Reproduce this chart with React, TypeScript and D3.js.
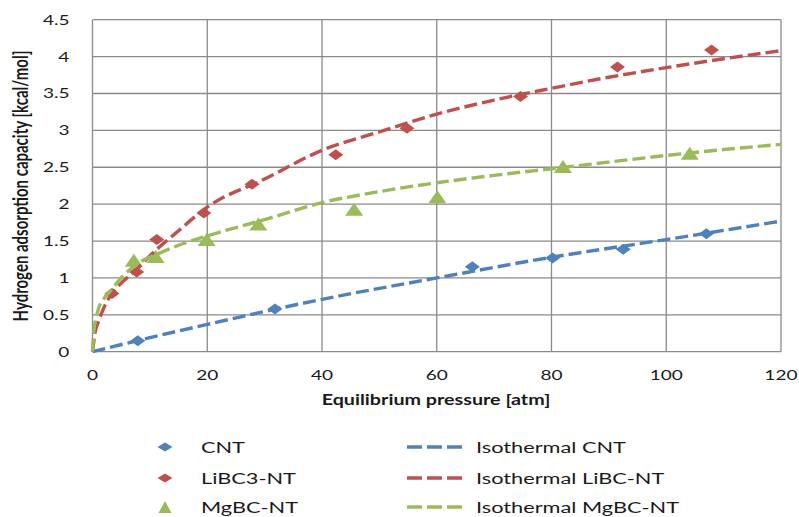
import React from 'react';
import * as d3 from 'd3';

// measured points
const cntX = [7.9, 31.8, 66.2, 80.2, 92.5, 107];
const cntY = [0.15, 0.58, 1.15, 1.27, 1.39, 1.6];
const libcX = [3.4, 7.7, 11.2, 19.4, 27.8, 42.4, 54.8, 74.6, 91.5, 107.9];
const libcY = [0.79, 1.08, 1.52, 1.88, 2.27, 2.67, 3.03, 3.46, 3.86, 4.09];
const mgbcX = [7.2, 11, 19.9, 28.9, 45.6, 60.1, 82, 104.1];
const mgbcY = [1.24, 1.29, 1.52, 1.73, 1.93, 2.1, 2.51, 2.69];

// isotherm fits
const fitCntX = [0, 10, 20, 40, 60, 80, 100, 120];
const fitCntY = [0, 0.19, 0.37, 0.71, 1.0, 1.28, 1.52, 1.77];
const fitLibcX = [0, 0.5, 1, 2, 3.5, 5, 7.5, 10, 15, 20, 30, 40, 50, 60, 70, 80, 90, 100, 110, 120];
const fitLibcY = [0, 0.28, 0.4, 0.6, 0.8, 0.93, 1.1, 1.3, 1.64, 1.96, 2.34, 2.73, 2.98, 3.22, 3.41, 3.57, 3.72, 3.85, 3.97, 4.08];
const fitMgbcX = [0, 0.2, 1, 2, 3.3, 5, 8, 11.5, 16, 20, 30, 40, 50, 60, 70, 80, 90, 100, 110, 120];
const fitMgbcY = [0, 0.25, 0.57, 0.72, 0.84, 1.0, 1.2, 1.33, 1.47, 1.57, 1.79, 2.02, 2.17, 2.29, 2.39, 2.48, 2.57, 2.66, 2.74, 2.81];

const xTicks = [0, 20, 40, 60, 80, 100, 120];
const yTicks = [0, 0.5, 1, 1.5, 2, 2.5, 3, 3.5, 4, 4.5];

const pointNames = ['CNT', 'LiBC3-NT', 'MgBC-NT'];
const lineNames = ['Isothermal CNT', 'Isothermal LiBC-NT', 'Isothermal MgBC-NT'];
const colors = ['#4F81BD', '#C0504D', '#9BBB59'];
const shapes = ['diamond', 'diamond', 'triangle'];

const FONT = 'Lato, "Open Sans", sans-serif';
const STRETCH = 1.36;

const zip = (xs: number[], ys: number[]) => xs.map((x, i) => [x, ys[i]] as [number, number]);

const markerPath = (shape: string, w: number, h: number) =>
  shape === 'diamond'
    ? `M0,${-h / 2}L${w / 2},0L0,${h / 2}L${-w / 2},0Z`
    : `M0,${-h / 2}L${w / 2},${h / 2}L${-w / 2},${h / 2}Z`;

const renderChart = (svg: any) => {
  const width = 799;
  const height = 517;
  const x = d3.scaleLinear().domain([0, 120]).range([92.5, 781]);
  const y = d3.scaleLinear().domain([0, 4.5]).range([351.7, 19.7]);

  svg.selectAll('*').remove();
  svg.append('rect').attr('width', width).attr('height', height).attr('fill', '#fff');

  // grid
  const grid = svg.append('g');
  grid.selectAll('.vg').data(xTicks).join('line')
    .attr('x1', (d: number) => x(d)).attr('x2', (d: number) => x(d))
    .attr('y1', y(0)).attr('y2', y(4.5))
    .attr('stroke', '#8a8a8a').attr('stroke-width', 1.3);
  grid.selectAll('.hg').data(yTicks).join('line')
    .attr('y1', (d: number) => y(d)).attr('y2', (d: number) => y(d))
    .attr('x1', x(0)).attr('x2', x(120))
    .attr('stroke', '#8a8a8a').attr('stroke-width', 1.3);

  // tick labels
  svg.append('g').selectAll('text').data(yTicks).join('text')
    .attr('x', 69.5).attr('y', (d: number) => y(d) + 5)
    .attr('text-anchor', 'end')
    .attr('font-family', FONT).attr('font-size', 14).attr('fill', '#1a1a1a')
    .style('transform-box', 'fill-box').style('transform-origin', 'right center')
    .style('transform', `scaleX(${STRETCH})`)
    .text((d: number) => String(d));
  svg.append('g').selectAll('text').data(xTicks).join('text')
    .attr('x', (d: number) => x(d)).attr('y', 380)
    .attr('text-anchor', 'middle')
    .attr('font-family', FONT).attr('font-size', 14).attr('fill', '#1a1a1a')
    .style('transform-box', 'fill-box').style('transform-origin', 'center')
    .style('transform', `scaleX(${STRETCH})`)
    .text((d: number) => String(d));

  // axis titles
  svg.append('text')
    .attr('x', 436).attr('y', 405)
    .attr('text-anchor', 'middle')
    .attr('font-family', FONT).attr('font-size', 14.5).attr('font-weight', 'bold').attr('fill', '#1a1a1a')
    .style('transform-box', 'fill-box').style('transform-origin', 'center')
    .style('transform', `scaleX(${STRETCH})`)
    .text('Equilibrium pressure [atm]');
  svg.append('text')
    .attr('transform', `translate(28,186) rotate(-90) scale(1,${STRETCH})`)
    .attr('text-anchor', 'middle')
    .attr('font-family', FONT).attr('font-size', 15).attr('font-weight', 'bold').attr('fill', '#1a1a1a')
    .text('Hydrogen adsorption capacity [kcal/mol]');

  const pointSets = [zip(cntX, cntY), zip(libcX, libcY), zip(mgbcX, mgbcY)];
  const fitSets = [zip(fitCntX, fitCntY), zip(fitLibcX, fitLibcY), zip(fitMgbcX, fitMgbcY)];

  // markers
  pointSets.forEach((pts, i) => {
    const w = shapes[i] === 'diamond' ? 15 : 18;
    const h = shapes[i] === 'diamond' ? 11 : 13;
    svg.append('g').selectAll('path').data(pts).join('path')
      .attr('transform', (d: [number, number]) => `translate(${x(d[0])},${y(d[1])})`)
      .attr('d', markerPath(shapes[i], w, h))
      .attr('fill', colors[i]);
  });

  // fitted lines
  const line = d3.line<[number, number]>()
    .x(d => x(d[0])).y(d => y(d[1]))
    .curve(d3.curveMonotoneX);
  fitSets.forEach((pts, i) => {
    svg.append('path')
      .attr('d', line(pts))
      .attr('fill', 'none')
      .attr('stroke', colors[i])
      .attr('stroke-width', 3.4)
      .attr('stroke-dasharray', '13,5');
  });

  // legend
  const rows = [447, 478, 507];
  const legend = svg.append('g');
  pointNames.forEach((name, i) => {
    const w = shapes[i] === 'diamond' ? 15 : 13;
    const h = shapes[i] === 'diamond' ? 9 : 12;
    legend.append('path')
      .attr('transform', `translate(165,${rows[i]})`)
      .attr('d', markerPath(shapes[i], w, h))
      .attr('fill', colors[i]);
    legend.append('text')
      .attr('x', 201).attr('y', rows[i] + 6)
      .attr('font-family', FONT).attr('font-size', 16).attr('fill', '#1a1a1a')
      .style('transform-box', 'fill-box').style('transform-origin', 'left center')
      .style('transform', `scaleX(${STRETCH})`)
      .text(name);
  });
  lineNames.forEach((name, i) => {
    legend.append('line')
      .attr('x1', 407).attr('x2', 462)
      .attr('y1', rows[i]).attr('y2', rows[i])
      .attr('stroke', colors[i]).attr('stroke-width', 3.4)
      .attr('stroke-dasharray', '15,5');
    legend.append('text')
      .attr('x', 476).attr('y', rows[i] + 6)
      .attr('font-family', FONT).attr('font-size', 16).attr('fill', '#1a1a1a')
      .style('transform-box', 'fill-box').style('transform-origin', 'left center')
      .style('transform', `scaleX(${STRETCH})`)
      .text(name);
  });
};

const App: React.FC = () => {
  const ref = React.useRef<SVGSVGElement>(null);

  React.useEffect(() => {
    renderChart(d3.select(ref.current));
  }, []);

  return (
    <svg
      ref={ref}
      width={799}
      height={517}
      style={{ position: 'absolute', left: 0, top: 0 }}
    />
  );
};

export default App;
